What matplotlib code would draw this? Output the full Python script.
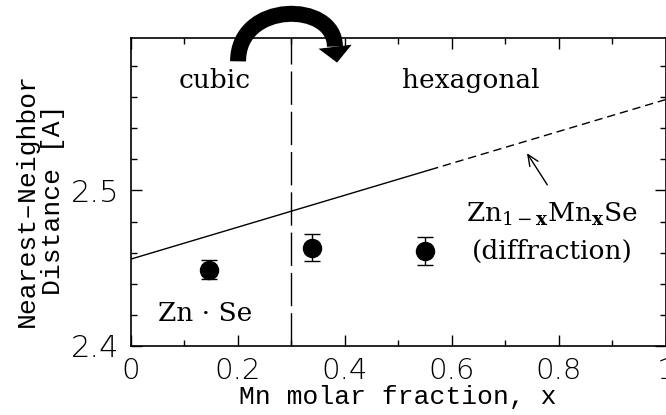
import matplotlib
matplotlib.use("Agg")
import matplotlib.pyplot as plt
from matplotlib.patches import FancyArrowPatch, PathPatch
from matplotlib.path import Path
from matplotlib.ticker import MultipleLocator, FuncFormatter

# measured nearest-neighbour distances vs Mn content
mn_frac = [0.147, 0.340, 0.551]
nn_dist = [2.449, 2.4633, 2.461]
nn_err = [0.006, 0.0086, 0.0088]

# diffraction (Vegard) line, solid over the cubic range then dashed
diff_x_solid = [0.0, 0.56]
diff_y_solid = [2.4558, 2.5133]
diff_x_dash = [0.56, 1.0]
diff_y_dash = [2.5133, 2.5584]

phase_boundary = 0.3

plt.rcParams['mathtext.fontset'] = 'dejavuserif'
plt.rcParams['lines.scale_dashes'] = False

fig = plt.figure(figsize=(6.66, 4.15), dpi=100)
ax = fig.add_axes([0.196, 0.1663, 0.8033, 0.7421])

ax.plot(diff_x_solid, diff_y_solid, color='k', lw=1.0)
ax.plot(diff_x_dash, diff_y_dash, color='k', lw=1.0, dashes=(6, 3.5))
ax.axvline(phase_boundary, color='k', lw=1.0, dashes=(24, 5))

ax.errorbar(mn_frac, nn_dist, yerr=nn_err, fmt='o', color='k', ms=13,
            capsize=6, elinewidth=1.0, capthick=1.0)

ax.set_xlim(0, 1)
ax.set_ylim(2.4, 2.598)
ax.xaxis.set_major_locator(MultipleLocator(0.2))
ax.xaxis.set_minor_locator(MultipleLocator(0.1))
ax.yaxis.set_major_locator(MultipleLocator(0.1))
ax.yaxis.set_minor_locator(MultipleLocator(0.02))
fmt = FuncFormatter(lambda v, p: f'{v:g}')
ax.xaxis.set_major_formatter(fmt)
ax.yaxis.set_major_formatter(fmt)
ax.tick_params(which='both', direction='in', top=True, right=True, width=1)
ax.tick_params(which='major', length=8)
ax.tick_params(which='minor', length=4)
ax.tick_params(axis='x', labelsize=21, pad=8)
ax.tick_params(axis='y', labelsize=22, pad=8)
for lab in ax.get_xticklabels() + ax.get_yticklabels():
    lab.set_fontweight('light')
for s in ax.spines.values():
    s.set_linewidth(1.2)

ax.set_xlabel('Mn molar fraction, x', family='Liberation Mono', fontsize=19,
              labelpad=0)
ax.set_ylabel('Nearest\u2013Neighbor\nDistance [A]', family='Liberation Mono',
              fontsize=19, linespacing=1.1)
ax.yaxis.label.set_va('center')
ax.yaxis.set_label_coords(-0.17, 0.474)

serif = dict(family='DejaVu Serif', fontsize=19, ha='center', va='center')
ax.text(0.158, 2.571, 'cubic', **serif)
ax.text(0.635, 2.571, 'hexagonal', **serif)
ax.text(0.14, 2.421, 'Zn \u00b7 Se', **serif)
ax.text(0.788, 2.4844, r'Zn$_{1-\mathbf{x}}$Mn$_{\mathbf{x}}$Se', **serif)
ax.text(0.788, 2.4605, '(diffraction)', **serif)
ax.annotate('', xy=(0.741, 2.524), xytext=(0.779, 2.5036),
            arrowprops=dict(arrowstyle='->,head_length=0.8,head_width=0.35',
                            lw=1.0, color='k', shrinkA=0, shrinkB=0))

# curved cubic -> hexagonal arrow above the frame
arc = Path([(0.201, 2.583), (0.201, 2.622), (0.382, 2.622), (0.382, 2.5925)],
           [Path.MOVETO, Path.CURVE4, Path.CURVE4, Path.CURVE4])
ax.add_patch(PathPatch(arc, fill=False, lw=11.5, capstyle='butt',
                       color='k', clip_on=False))
head = FancyArrowPatch((0.382, 2.5935), (0.386, 2.5822),
                       arrowstyle='-|>,head_length=1.15,head_width=1.2',
                       mutation_scale=10, lw=0, color='k',
                       shrinkA=0, shrinkB=0, clip_on=False)
ax.add_patch(head)

fig.savefig('out.png', dpi=100)
